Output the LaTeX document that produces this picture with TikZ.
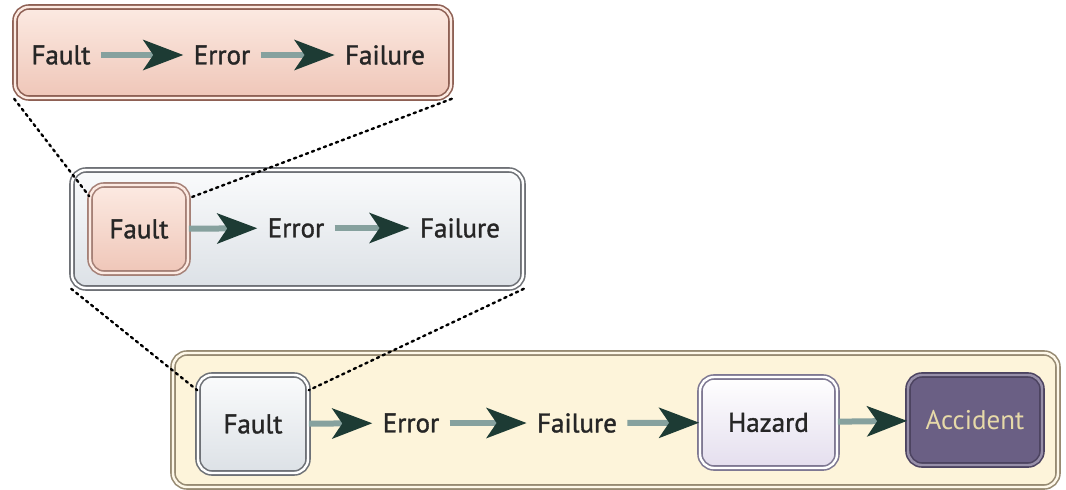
\documentclass[tikz,border=0pt]{standalone}
\usepackage{fontspec}
\setmainfont{PT Sans}
\newfontfamily\labelfont{PT Sans}[FakeBold=1.3]
\usepackage{tikz}
\usetikzlibrary{arrows.meta}

\definecolor{toprim}{HTML}{8E6054}
\definecolor{toplight}{HTML}{FCEAE2}
\definecolor{topdark}{HTML}{EFC6B8}
\definecolor{greyrim}{HTML}{6E7176}
\definecolor{greylight}{HTML}{FAFBFC}
\definecolor{greydark}{HTML}{DCE1E6}
\definecolor{creamrim}{HTML}{968A72}
\definecolor{cream}{HTML}{FDF4DA}
\definecolor{lilacrim}{HTML}{7E7892}
\definecolor{lilac}{HTML}{E4DEEE}
\definecolor{plum}{HTML}{6A5F84}
\definecolor{plumrim}{HTML}{4C4360}
\definecolor{sand}{HTML}{E6D9A8}
\definecolor{shaft}{HTML}{86A19E}
\definecolor{headgreen}{HTML}{1D3B34}

\tikzset{
  box/.style={rounded corners=7pt, line width=0.8pt, double distance=1.2pt},
  word/.style={font=\labelfont\fontsize{13.5}{15}\selectfont, text=black!85, inner sep=5pt},
  flow/.style={line width=3pt, draw=shaft,
    -{Stealth[length=20pt, width=15pt, inset=5pt, color=headgreen]}},
  zoomline/.style={dotted, line width=1.2pt, line cap=round}
}

\begin{document}
\begin{tikzpicture}[x=0.5pt, y=-0.5pt]
  \useasboundingbox (0,0) rectangle (1066,489);

  % Top level: fault chain
  \node[box, draw=toprim, double=toplight, top color=toplight, bottom color=topdark,
        minimum width=218pt, minimum height=45.5pt] (top) at (233,52.5) {};
  \node[word] (tfault) at (61,55) {Fault};
  \node[word] (terror) at (222,55) {Error};
  \node[word] (tfail) at (385,55) {Failure};
  \draw[flow] (tfault) -- (terror);
  \draw[flow] (terror) -- (tfail);

  % Middle level
  \node[box, draw=greyrim, double=white, top color=greylight, bottom color=greydark,
        minimum width=225.5pt, minimum height=59pt] (mid) at (297.5,229) {};
  \node[box, word, draw=toprim!80, double=toplight, top color=toplight, bottom color=topdark,
        minimum width=49pt, minimum height=44pt] (mfault) at (139,229) {Fault};
  \node[word] (merror) at (296,228) {Error};
  \node[word] (mfail) at (460,228) {Failure};
  \draw[flow] (mfault) -- (merror);
  \draw[flow] (merror) -- (mfail);

  % Bottom level: up to the accident
  \node[box, draw=creamrim, double=cream!60, fill=cream,
        minimum width=442.5pt, minimum height=67pt] (bot) at (615.5,420) {};
  \node[box, word, draw=greyrim, double=white, top color=greylight, bottom color=greydark,
        minimum width=55pt, minimum height=49pt] (bfault) at (253,424) {Fault};
  \node[word] (berror) at (411,423) {Error};
  \node[word] (bfail) at (577,423) {Failure};
  \node[box, word, draw=lilacrim, double=white, top color=white, bottom color=lilac,
        minimum width=68.5pt, minimum height=45.5pt] (hazard) at (768.5,422.5) {Hazard};
  \node[box, word, draw=plumrim, double=plum!70, fill=plum, text=sand,
        font=\fontsize{13.5}{15}\selectfont,
        minimum width=67pt, minimum height=45pt] (accident) at (975,420) {Accident};
  \draw[flow] (bfault) -- (berror);
  \draw[flow] (berror) -- (bfail);
  \draw[flow] (bfail) -- (hazard);
  \draw[flow] (hazard) -- (accident);

  % Zoom lines
  \draw[zoomline] (top.south west) -- ([yshift=-6pt]mfault.north west);
  \draw[zoomline] (top.south east) -- ([yshift=-7pt]mfault.north east);
  \draw[zoomline] (mid.south west) -- ([yshift=-8pt]bfault.north west);
  \draw[zoomline] (mid.south east) -- ([yshift=-8pt]bfault.north east);
\end{tikzpicture}
\end{document}
